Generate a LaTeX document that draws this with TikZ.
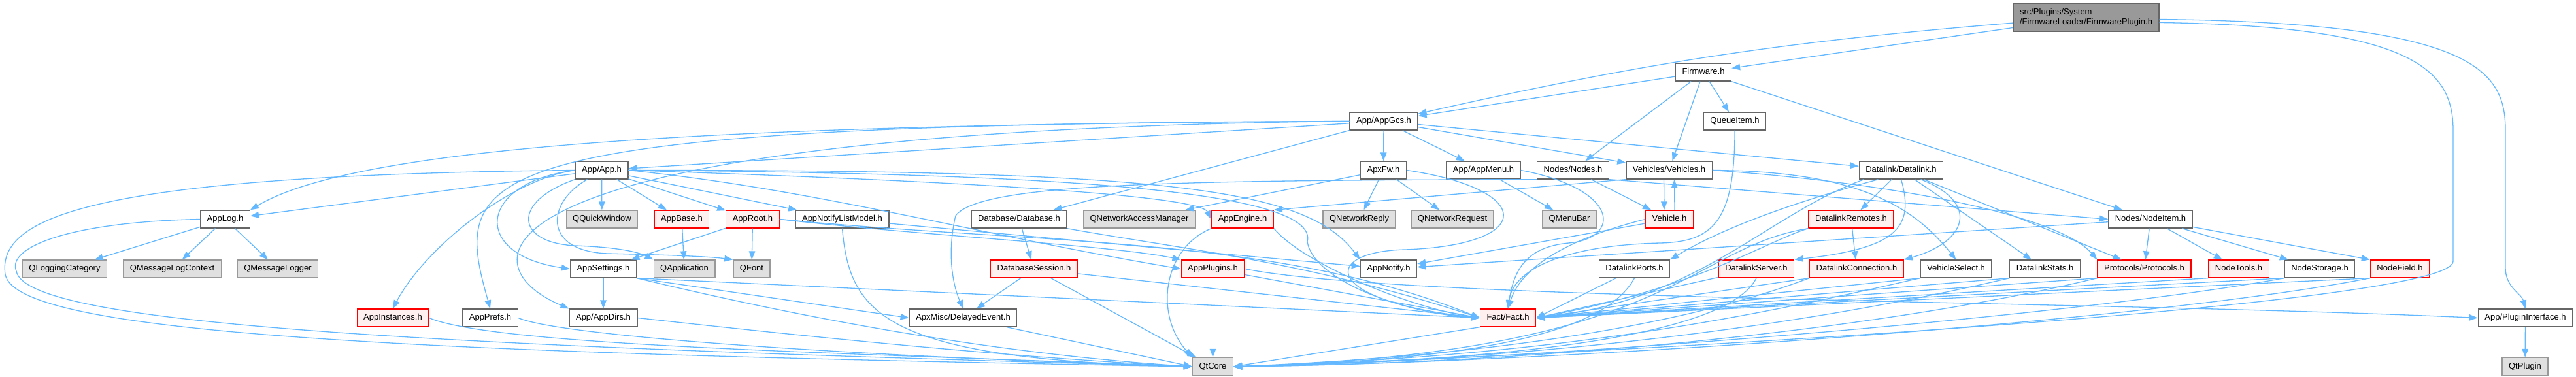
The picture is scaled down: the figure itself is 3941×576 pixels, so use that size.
\documentclass[tikz,border=0pt]{standalone}
\usepackage{fontspec}
\setmainfont{Liberation Sans}
\usetikzlibrary{arrows.meta}
\definecolor{edgeblue}{HTML}{63B8FF}
\definecolor{darkline}{HTML}{666666}
\definecolor{lightline}{HTML}{999999}
\definecolor{extfill}{HTML}{E0E0E0}
\definecolor{redfill}{HTML}{FFF0F0}
\begin{document}
\begin{tikzpicture}[x=1pt, y=-1pt,
        every node/.style={rectangle, draw=darkline, fill=white, line width=1.3pt,
            minimum height=27pt, inner xsep=10pt, inner ysep=0pt,
            text height=9.4pt, text depth=2.7pt, font=\fontsize{13}{15}\selectfont},
        ext/.style={draw=lightline, fill=extfill},
        redbox/.style={draw=red, fill=redfill},
        topbox/.style={fill=lightline, align=left, minimum height=43pt, text height=24.4pt},
        dep/.style={color=edgeblue, line width=1.3pt, -{Triangle[length=13pt, width=9.5pt]}}]
    \useasboundingbox (0,0) rectangle (3941,576);

    % top rows
    \node (top) [topbox] at (3191.5,26.5) {src/Plugins/System\\/FirmwareLoader/FirmwarePlugin.h};
    \node (fw) at (2606,110.5) {Firmware.h};
    \node (gcs) at (2117,185.5) {App/AppGcs.h};
    \node (queue) at (2654,185.5) {QueueItem.h};
    \node (app) at (920.5,260.5) {App/App.h};
    \node (apxfw) at (2116.5,260.5) {ApxFw.h};
    \node (menu) at (2269.5,260.5) {App/AppMenu.h};
    \node (nodes) at (2406.5,260.5) {Nodes/Nodes.h};
    \node (vehicles) at (2553.5,260.5) {Vehicles/Vehicles.h};
    \node (datalink) at (2908.5,260.5) {Datalink/Datalink.h};

    % row 4
    \node (log) at (344.5,335.5) {AppLog.h};
    \node (qquick) [ext] at (921,335.5) {QQuickWindow};
    \node (base) [redbox] at (1043,335.5) {AppBase.h};
    \node (root) [redbox] at (1151.5,335.5) {AppRoot.h};
    \node (notifymodel) at (1288.5,335.5) {AppNotifyListModel.h};
    \node (database) at (1559,335.5) {Database/Database.h};
    \node (qnam) [ext] at (1743,335.5) {QNetworkAccessManager};
    \node (engine) [redbox] at (1901,335.5) {AppEngine.h};
    \node (qreply) [ext] at (2079.5,335.5) {QNetworkReply};
    \node (qrequest) [ext] at (2222,335.5) {QNetworkRequest};
    \node (qmenubar) [ext] at (2401,335.5) {QMenuBar};
    \node (vehicle) [redbox] at (2554,335.5) {Vehicle.h};
    \node (remotes) [redbox] at (2832,335.5) {DatalinkRemotes.h};
    \node (nodeitem) at (3290,335.5) {Nodes/NodeItem.h};

    % row 5
    \node (qlogcat) [ext] at (99,411.5) {QLoggingCategory};
    \node (qlogctx) [ext] at (263.5,411.5) {QMessageLogContext};
    \node (qlogger) [ext] at (425,411.5) {QMessageLogger};
    \node (settings) at (923,411.5) {AppSettings.h};
    \node (qapp) [ext] at (1047,411.5) {QApplication};
    \node (qfont) [ext] at (1150,411.5) {QFont};
    \node (session) [redbox] at (1582,411.5) {DatabaseSession.h};
    \node (plugins) [redbox] at (1855.5,411.5) {AppPlugins.h};
    \node (notify) at (2124.5,411.5) {AppNotify.h};
    \node (ports) at (2500.5,411.5) {DatalinkPorts.h};
    \node (server) [redbox] at (2687,411.5) {DatalinkServer.h};
    \node (connection) [redbox] at (2840.5,411.5) {DatalinkConnection.h};
    \node (vselect) at (2992.5,411.5) {VehicleSelect.h};
    \node (stats) at (3128.5,411.5) {DatalinkStats.h};
    \node (protocols) [redbox] at (3280.5,411.5) {Protocols/Protocols.h};
    \node (nodetools) [redbox] at (3425,411.5) {NodeTools.h};
    \node (nodestorage) at (3549,411.5) {NodeStorage.h};
    \node (nodefield) [redbox] at (3671.5,411.5) {NodeField.h};

    % bottom rows
    \node (instances) [redbox] at (601,486.5) {AppInstances.h};
    \node (prefs) at (750,486.5) {AppPrefs.h};
    \node (dirs) at (923,486.5) {App/AppDirs.h};
    \node (delayed) at (1473.5,486.5) {ApxMisc/DelayedEvent.h};
    \node (fact) [redbox] at (2307,486.5) {Fact/Fact.h};
    \node (iface) at (3863.5,486.5) {App/PluginInterface.h};
    \node (qtcore) [ext] at (1855.5,561) {QtCore};
    \node (qtplugin) [ext] at (3863,561) {QtPlugin};

    % straight includes
    \path[dep]
        (top) edge[bend right=4] (gcs)
        (top) edge (fw)
        (fw) edge (gcs)
        (fw) edge (nodes)
        (fw) edge (vehicles)
        (fw) edge (queue)
        (fw) edge (nodeitem)
        (gcs) edge (app)
        (gcs) edge (apxfw)
        (gcs) edge (menu)
        (gcs) edge (vehicles)
        (gcs) edge (datalink)
        (gcs) edge (database)
        (app) edge (qquick)
        (app) edge (base)
        (app) edge (root)
        (app) edge (notifymodel)
        (app) edge (log)
        (base) edge (qapp)
        (root) edge (settings)
        (root) edge (qfont)
        (notifymodel) edge (notify)
        (log) edge (qlogcat)
        (log) edge (qlogctx)
        (log) edge (qlogger)
        (settings) edge (dirs)
        (settings.south east) edge (delayed.west)
        (settings.south east) edge (fact.west)
        (database) edge (session)
        (session) edge (delayed)
        (session) edge (qtcore)
        (session) edge (fact.west)
        (delayed) edge (qtcore.west)
        (plugins) edge (qtcore)
        (plugins) edge (fact.west)
        (apxfw) edge (qreply)
        (apxfw) edge (qrequest)
        (apxfw) edge (qnam)
        (menu) edge (qmenubar)
        (nodes) edge (vehicle)
        (nodes.south east) edge (nodeitem.west)
        ([xshift=-8pt]vehicles.south) edge ([xshift=-8pt]vehicle.north)
        ([xshift=8pt]vehicle.north) edge ([xshift=8pt]vehicles.south)
        (vehicles.south west) edge (engine.north east)
        (vehicle) edge (notify)
        (datalink) edge (remotes)
        (datalink) edge (stats)
        (datalink) edge (protocols)
        (remotes) edge (connection)
        (nodeitem) edge (protocols)
        (nodeitem) edge (nodetools)
        (nodeitem) edge (nodestorage)
        (nodeitem) edge (nodefield.north west)
        (nodeitem) edge (notify)
        (ports) edge (fact.east)
        (server) edge (fact.east)
        (connection.south west) edge (fact.east)
        (vselect.south west) edge (fact.east)
        (stats.south west) edge (fact.east)
        (protocols.south west) edge (fact.east)
        (nodetools.south west) edge (fact.east)
        (nodestorage.south west) edge (fact.east)
        (nodefield.south west) edge (fact.east)
        (fact.south west) edge (qtcore.east)
        (iface) edge (qtplugin);

    % routed includes
    \draw[dep] ([yshift=-8pt]top.east) .. controls (3700,40) and (3753,110) .. (3753,200) -- (3753,400) .. controls (3753,470) and (2400,545) .. (qtcore.east);
    \draw[dep] ([yshift=-3pt]top.east) .. controls (3790,35) and (3833,110) .. (3833,200) -- (3833,410) .. controls (3833,440) and (3858,450) .. (iface.north);
    \draw[dep] (queue.south) .. controls (2654,340) and (2620,370) .. (2540,372) .. controls (2400,375) and (2315,410) .. (fact.north);
    \draw[dep] (gcs.west) .. controls (1200,190) and (560,215) .. (log.north east);
    \draw[dep] (gcs.west) .. controls (700,190) and (690,260) .. (prefs.north);
    \draw[dep] (gcs.west) .. controls (720,200) and (700,400) .. (dirs.north west);
    \draw[dep] (app.west) .. controls (150,268) and (-5,330) .. (8,420) .. controls (25,510) and (600,540) .. (qtcore.west);
    \draw[dep] (log.west) .. controls (100,340) and (10,380) .. (25,415) .. controls (40,500) and (700,530) .. (qtcore.west);
    \draw[dep] (app.west) .. controls (780,275) and (650,380) .. (instances.north);
    \draw[dep] (app.west) .. controls (730,280) and (720,390) .. (settings.west);
    \draw[dep] (app.south west) .. controls (780,310) and (790,372) .. (880,376) .. controls (940,378) and (975,385) .. (qapp.north west);
    \draw[dep] ([xshift=-22pt]app.south) .. controls (835,310) and (830,385) .. (930,388) .. controls (1010,390) and (1080,392) .. (qfont.north west);
    \draw[dep] (app.east) .. controls (1500,278) and (1835,300) .. (engine.west);
    \draw[dep] (app.east) .. controls (1250,290) and (1500,360) .. (plugins.west);
    \draw[dep] (app.east) .. controls (1800,260) and (2000,290) .. (notify.north west);
    \draw[dep] (app.east) .. controls (1600,265) and (2020,290) .. (2000,370) .. controls (2010,430) and (2150,480) .. (fact.west);
    \draw[dep] (root.east) .. controls (1400,360) and (1700,375) .. (plugins.north west);
    \draw[dep] (root.east) .. controls (1600,375) and (1950,360) .. (fact.west);
    \draw[dep] (notifymodel.south) .. controls (1300,480) and (1350,550) .. (qtcore.west);
    \draw[dep] (settings.south east) .. controls (1200,480) and (1500,540) .. (qtcore.west);
    \draw[dep] (instances.east) .. controls (760,530) and (1300,540) .. (qtcore.west);
    \draw[dep] (prefs.east) .. controls (860,515) and (1300,545) .. (qtcore.west);
    \draw[dep] (dirs.east) .. controls (1100,500) and (1500,545) .. (qtcore.west);
    \draw[dep] (database.south east) .. controls (1800,380) and (2000,400) .. (fact.west);
    \draw[dep] (engine.south west) .. controls (1780,380) and (1765,480) .. (qtcore.north west);
    \draw[dep] (engine.south east) .. controls (1990,400) and (2150,470) .. (fact.west);
    \draw[dep] (plugins.east) .. controls (2150,460) and (3200,460) .. (iface.west);
    \draw[dep] (apxfw.east) .. controls (2350,290) and (2350,375) .. (2150,382) .. controls (2020,385) and (2020,460) .. (fact.west);
    \draw[dep] (menu.east) .. controls (2480,290) and (2480,365) .. (2400,372) .. controls (2330,378) and (2315,420) .. (fact.north);
    \draw[dep] (nodes.south west) .. controls (1800,276) and (1500,280) .. (1462,330) .. controls (1450,380) and (1455,430) .. (delayed.north);
    \draw[dep] (vehicles.east) .. controls (2900,280) and (3150,330) .. (protocols.north west);
    \draw[dep] (vehicles.east) .. controls (2850,262) and (2930,320) .. (vselect.north);
    \draw[dep] (vehicle.west) .. controls (2420,360) and (2330,400) .. (fact.north);
    \draw[dep] (datalink.south) .. controls (2930,350) and (2900,380) .. (server.north east);
    \draw[dep] ([xshift=30pt]datalink.south) .. controls (3030,310) and (3010,370) .. (connection.north east);
    \draw[dep] ([xshift=-35pt]datalink.south) .. controls (2780,300) and (2650,340) .. (ports.north east);
    \draw[dep] ([xshift=-57pt]datalink.south) .. controls (2700,330) and (2600,460) .. (fact.east);
    \draw[dep] (remotes.south west) .. controls (2700,370) and (2600,440) .. (fact.east);
    \draw[dep] (remotes.south west) .. controls (2580,380) and (2560,540) .. (qtcore.east);
    \draw[dep] (server.south) .. controls (2650,500) and (2400,550) .. (qtcore.east);
    \draw[dep] (connection.south west) .. controls (2650,470) and (2400,540) .. (qtcore.east);
    \draw[dep] (vselect.south west) .. controls (2700,480) and (2400,545) .. (qtcore.east);
    \draw[dep] (stats.south west) .. controls (2800,490) and (2400,550) .. (qtcore.east);
    \draw[dep] (protocols.south west) .. controls (2900,500) and (2400,555) .. (qtcore.east);
    \draw[dep] (nodestorage.south west) .. controls (3200,480) and (2400,550) .. (qtcore.east);
    \draw[dep] (nodefield.south west) .. controls (3300,490) and (2400,555) .. (qtcore.east);
    \draw[dep] (ports.south) .. controls (2460,500) and (2300,550) .. (qtcore.east);
\end{tikzpicture}
\end{document}
